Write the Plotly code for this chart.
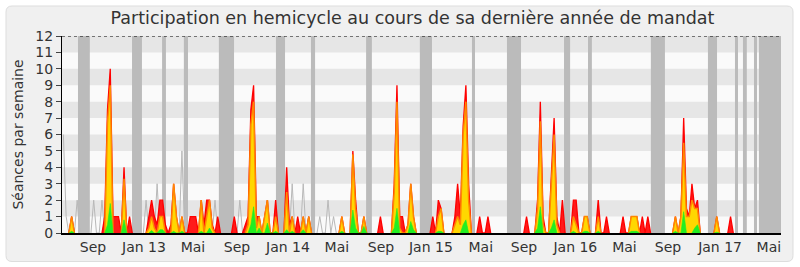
import numpy as np
import plotly.graph_objects as go

N_WEEKS = 261
weeks = list(range(N_WEEKS))

# --- values (week index -> séances) ---
red_w = [3, 15, 16, 17, 18, 19, 20, 22, 24, 31, 32, 33, 34, 35, 36, 37, 39, 40, 41, 43,
         46, 47, 48, 50, 51, 52, 53, 54, 56, 62, 66, 67, 68, 69, 70, 71, 73, 74, 77, 81,
         82, 83, 85, 87, 89, 101, 105, 106, 109, 115, 120, 121, 122, 123, 125, 126, 127,
         134, 136, 137, 142, 143, 144, 145, 146, 147, 151, 154, 168, 172, 173, 174, 177,
         178, 179, 181, 185, 186, 189, 190, 194, 197, 203, 206, 207, 208, 210, 212, 222,
         224, 225, 226, 227, 228, 229, 230, 237, 242]
red_v = [1, 1, 7.5, 10, 1, 1, 1, 4, 1, 1, 2, 1, 0.5, 2, 2, 0.5, 0.5, 3, 1, 1,
         1, 1, 1, 2, 0.5, 2, 2, 0.5, 1, 1, 0.5, 1, 7.5, 9, 1, 1, 1, 2, 2, 4,
         0.5, 1, 1, 1, 1, 1, 5, 2, 1, 1, 3, 9, 1, 1, 0.5, 3, 1,
         1, 2, 1.5, 1, 3, 1, 6.5, 9, 3, 1, 1, 1, 2, 8, 1, 3.5,
         7, 1, 2, 2, 2, 1, 1, 2, 1, 1, 1, 1, 1, 1, 1, 1,
         1, 7, 1.5, 1, 3, 1.5, 2, 1, 1]

yel_w = [3, 16, 17, 22, 31, 32, 33, 35, 36, 40, 41, 43, 50, 52, 53, 54, 67, 68, 69, 70,
         71, 73, 74, 77, 81, 83, 87, 89, 101, 105, 106, 109, 120, 121, 122, 125, 126, 127,
         136, 137, 142, 143, 144, 145, 146, 147, 172, 173, 174, 177, 178, 179, 185, 186,
         189, 190, 194, 206, 207, 208, 222, 224, 225, 226, 227, 228, 229, 230, 237]
yel_v = [1, 6.7, 9, 3.3, 0.3, 1, 0.3, 1, 1, 3, 1, 1, 2, 1, 2, 0.3, 0.5, 6.6, 8, 0.3,
         1, 1, 2, 1, 2.5, 1, 1, 1, 1, 4.8, 1.5, 1, 2.5, 8, 0.3, 0.5, 3, 1,
         1, 1.5, 0.5, 1, 0.5, 6, 8, 2, 1.5, 6.8, 0.5, 3, 6, 0.5, 1, 0.5,
         1, 1, 1, 1, 1, 1, 1, 1, 5.5, 1, 1, 2, 1.5, 1.5, 1]

grn_w = [3, 16, 17, 22, 32, 35, 36, 40, 43, 50, 53, 68, 69, 71, 74, 77, 81, 83, 87, 101,
         105, 106, 109, 120, 121, 126, 127, 136, 137, 145, 146, 172, 173, 177, 178, 185,
         189, 190, 194, 206, 207, 208, 222, 225, 229, 230, 237]
grn_v = [0.1, 0.5, 1.8, 0.8, 0.15, 0.2, 0.2, 0.1, 0.1, 0.1, 0.3, 0.5, 1.6, 0.3, 0.6, 0.1, 0.2, 0.1, 0.2, 0.1,
         1.4, 0.3, 0.4, 0.3, 1.5, 0.7, 0.2, 0.1, 0.1, 0.5, 0.8, 0.3, 1.6, 0.3, 0.8, 0.1,
         0.1, 0.1, 0.1, 0.1, 0.1, 0.1, 0.1, 1.3, 0.3, 0.5, 0.05]

gray_w = [0, 1, 3, 5, 11, 14, 30, 34, 43, 55, 64, 67, 83, 87, 89, 93, 96, 98]
gray_v = [6, 1, 1, 2, 2, 2, 2, 3, 5, 2, 2, 1, 3, 3, 1, 1, 2, 1]

# recess periods (week index start/end)
vac_start = [5.3, 24.9, 35.8, 43.7, 56.4, 77.1, 89.8, 109.8, 129.3, 148.2, 160.9, 181.6,
             190.3, 213.1, 233.8, 243.6, 246.5, 250.5, 252.3]
vac_end = [9.6, 28.5, 37.2, 45.2, 61.9, 80.4, 91.3, 111.9, 133.7, 149.3, 166.0, 183.8,
           191.7, 218.2, 237.1, 244.7, 247.9, 251.6, 260.3]

tick_weeks = [10.74, 29.23, 46.99, 62.95, 81.45, 99.2, 115.2, 133.3, 151.4, 167.1,
              185.7, 203.5, 219.3, 238.2, 255.9]
tick_text = ["Sep", "Jan 13", "Mai", "Sep", "Jan 14", "Mai", "Sep", "Jan 15", "Mai",
             "Sep", "Jan 16", "Mai", "Sep", "Jan 17", "Mai"]


def series(ws, vs):
    """Weekly array; long runs of zero become gaps so no line is drawn on the axis."""
    a = np.zeros(N_WEEKS)
    for w, v in zip(ws, vs):
        a[w] = v
    out = []
    for i in range(N_WEEKS):
        near = a[max(i - 1, 0):min(i + 2, N_WEEKS)]
        out.append(float(a[i]) if np.any(near > 0) else None)
    return out


red = series(red_w, red_v)
yel = series(yel_w, yel_v)
grn = series(grn_w, grn_v)
gray = series(gray_w, gray_v)

FONT = "DejaVu Sans"
fig = go.Figure()
fig.add_trace(go.Scatter(x=weeks, y=gray, mode="lines",
                         line=dict(color="#b8b8b8", width=1), hoverinfo="skip"))
fig.add_trace(go.Scatter(x=weeks, y=red, mode="lines", fill="tozeroy",
                         fillcolor="#ff1a1a", line=dict(color="#ff0000", width=1.3)))
fig.add_trace(go.Scatter(x=weeks, y=yel, mode="lines", fill="tozeroy",
                         fillcolor="#ffd700", line=dict(color="#ff8800", width=1.5)))
fig.add_trace(go.Scatter(x=weeks, y=grn, mode="lines", fill="tozeroy",
                         fillcolor="#22ee22", line=dict(color="#22ee22", width=0.6)))

shapes = []
# outer rounded frame (paper coords)
x0, x1 = (6 - 62) / 719, (793 - 62) / 719
yb, yt = (233 - 261.5) / 197, (233 - 6) / 197
rx, ry = 6 / 719, 6 / 197
path = (f"M {x0+rx},{yt} L {x1-rx},{yt} Q {x1},{yt} {x1},{yt-ry} L {x1},{yb+ry} "
        f"Q {x1},{yb} {x1-rx},{yb} L {x0+rx},{yb} Q {x0},{yb} {x0},{yb+ry} "
        f"L {x0},{yt-ry} Q {x0},{yt} {x0+rx},{yt} Z")
shapes.append(dict(type="path", xref="paper", yref="paper", path=path,
                   fillcolor="#f0f0f0", line=dict(color="#dddddd", width=1), layer="below"))
# plot area background
shapes.append(dict(type="rect", xref="x domain", yref="y domain", x0=0, x1=1, y0=0, y1=1,
                   fillcolor="#fafafa", line=dict(width=0), layer="below"))
for s, e in zip(vac_start, vac_end):
    shapes.append(dict(type="rect", xref="x", yref="y", x0=s, x1=e, y0=0, y1=12,
                       fillcolor="#bbbbbb", line=dict(width=0), layer="below"))
for k in range(1, 12, 2):
    shapes.append(dict(type="rect", xref="x domain", yref="y", x0=0, x1=1, y0=k, y1=k + 1,
                       fillcolor="rgba(0,0,0,0.08)", line=dict(width=0), layer="below"))
shapes.append(dict(type="line", xref="x domain", yref="y", x0=0, x1=1, y0=12, y1=12,
                   line=dict(color="#000000", width=1, dash="dot"), layer="above"))

fig.update_layout(
    width=800, height=267,
    margin=dict(l=62, r=19, t=36, b=34),
    paper_bgcolor="white", plot_bgcolor="#fafafa",
    showlegend=False,
    font=dict(family=FONT, size=14, color="#333333"),
    title=dict(text="Participation en hemicycle au cours de sa dernière année de mandat",
               x=412.5 / 800, xanchor="center", xref="container",
               y=1 - 18 / 267, yanchor="middle", yref="container",
               font=dict(family=FONT, size=17.5, color="#333333")),
    shapes=shapes,
    xaxis=dict(range=[-0.5, 260.3], tickmode="array", tickvals=tick_weeks, ticktext=tick_text,
               showgrid=False, zeroline=False, showline=True, linecolor="#000000",
               linewidth=1.5, ticks="", tickfont=dict(size=14, color="#333333")),
    yaxis=dict(range=[0, 12], tickmode="array", tickvals=list(range(13)),
               showgrid=False, zeroline=False, showline=True, linecolor="#000000",
               linewidth=1, ticks="outside", ticklen=5, tickcolor="#444444",
               tickfont=dict(size=14, color="#333333"),
               title=dict(text="Séances par semaine", standoff=8,
                          font=dict(size=14, color="#333333"))),
)

fig.write_html("out.html")
